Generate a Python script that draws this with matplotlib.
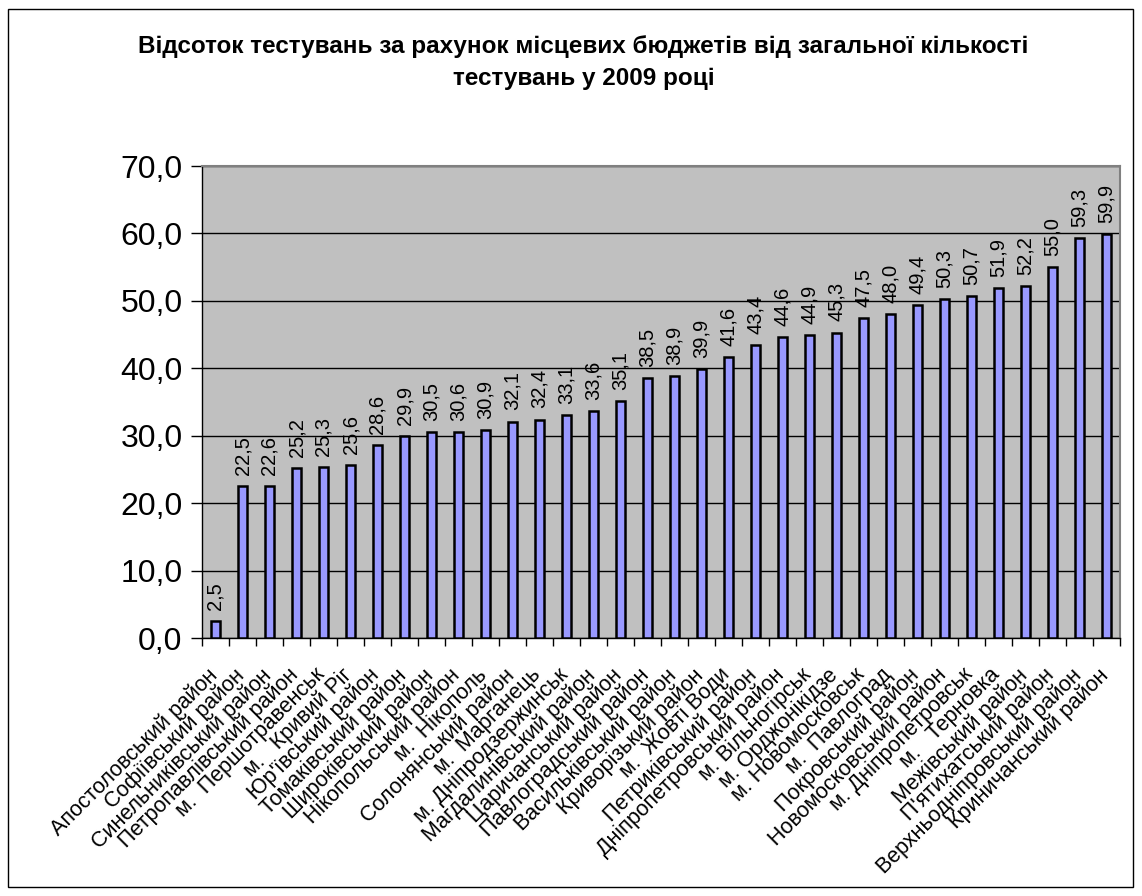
import matplotlib
matplotlib.use("Agg")
import matplotlib.pyplot as plt
from matplotlib.patches import Rectangle
from matplotlib.transforms import ScaledTranslation
import numpy as np

plt.rcParams['font.family'] = ['Liberation Sans', 'DejaVu Sans']

title = ("Відсоток тестувань за рахунок місцевих бюджетів від загальної кількості\n"
         "тестувань у 2009 році")

categories = [
    "Апостоловський район", "Софіївський район", "Синельниківський район",
    "Петропавлівський район", "м.  Першотравенськ", "м.   Кривий Ріг",
    "Юр'ївський район", "Томаківський район", "Широківський район",
    "Нікопольський район", "м.  Нікополь", "Солонянський район",
    "м.  Марганець", "м. Дніпродзержинськ", "Магдалинівський район",
    "Царичанський район", "Павлоградський район", "Васильківський район",
    "Криворізький район", "м.  Жовті Води", "Петриківський район",
    "Дніпропетровський район", "м. Вільногірськ", "м. Орджонікідзе",
    "м. Новомосковськ", "м.  Павлоград", "Покровський район",
    "Новомосковський район", "м. Дніпропетровськ", "м.   Терновка",
    "Межівський район", "П'ятихатський район", "Верхньодніпровський район",
    "Криничанський район",
]

values = [
    2.5, 22.5, 22.6, 25.2, 25.3, 25.6, 28.6, 29.9, 30.5, 30.6, 30.9, 32.1,
    32.4, 33.1, 33.6, 35.1, 38.5, 38.9, 39.9, 41.6, 43.4, 44.6, 44.9, 45.3,
    47.5, 48.0, 49.4, 50.3, 50.7, 51.9, 52.2, 55.0, 59.3, 59.9,
]

yticks = [0, 10, 20, 30, 40, 50, 60, 70]


def fmt(v):
    return f"{v:.1f}".replace(".", ",")


W, H = 1142, 896
fig = plt.figure(figsize=(W / 100, H / 100), dpi=100)
fig.patch.set_facecolor("white")

# outer chart frame
fig.patches.append(Rectangle((8 / W, 9 / H), 1125 / W, 878 / H,
                             transform=fig.transFigure, fill=False,
                             edgecolor="black", linewidth=1.0))

ax = fig.add_axes([202 / W, 1 - 638 / H, 918 / W, 472 / H])
ax.set_facecolor("#C0C0C0")

x = np.arange(len(values))
ax.bar(x, values, width=0.33, color="#9999FF", edgecolor="black",
       linewidth=1.8, zorder=3)

for xi, v in zip(x, values):
    ax.annotate(fmt(v), (xi, v), xytext=(0, 8), textcoords="offset points",
                rotation=90, ha="center", va="bottom",
                fontsize=14.5, color="black", zorder=4)

ax.set_xlim(-0.5, len(values) - 0.5)
ax.set_ylim(0, 70)
ax.set_yticks(yticks)
ax.set_yticklabels([fmt(t) for t in yticks], fontsize=23)
ax.yaxis.grid(True, color="#000000", linewidth=1.0, zorder=1)
ax.set_axisbelow(True)

# category ticks sit between bars; labels under bar centres
ax.set_xticks(np.arange(len(values) + 1) - 0.5)
ax.set_xticklabels([])
ax.set_xticks(x, minor=True)
ax.set_xticklabels(categories, minor=True, rotation=45, ha="right",
                   rotation_mode="anchor", fontsize=15.5)
ax.tick_params(axis="x", which="minor", length=0, pad=19)
ax.tick_params(axis="x", which="major", length=6, width=1, direction="out")
ax.tick_params(axis="y", length=8, width=1, direction="out", pad=6)
shift = ScaledTranslation(-9 / 100, 0, fig.dpi_scale_trans)
for lbl in ax.get_xticklabels(minor=True):
    lbl.set_transform(lbl.get_transform() + shift)

for side in ("top", "right"):
    ax.spines[side].set_color("#808080")
    ax.spines[side].set_linewidth(1.5)
for side in ("left", "bottom"):
    ax.spines[side].set_color("black")
    ax.spines[side].set_linewidth(1.0)

fig.text(0.511, 1 - 62 / H, title, ha="center", va="center",
         fontsize=17.5, fontweight="bold", linespacing=1.5)

fig.savefig("out.png", dpi=100)
